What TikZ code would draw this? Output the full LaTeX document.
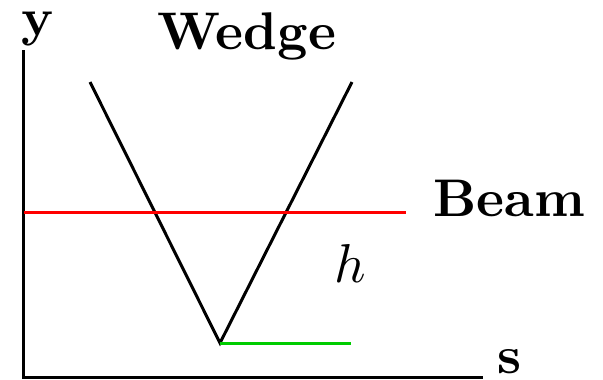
\documentclass[tikz,border=0pt]{standalone}
\begin{document}
\begin{tikzpicture}[x=0.2pt,y=-0.2pt,
  ln/.style={line width=0.6pt},
  lbl/.style={font=\fontsize{10.6}{12}\selectfont\bfseries, inner sep=0pt}]
\useasboundingbox (0,0) rectangle (603,379);
\coordinate (ytop) at (24,50);
\coordinate (o) at (24,377);
\coordinate (send) at (483,377);
\draw[ln] (ytop) -- (o) -- (send);
\node[lbl] (ylab) at (38,29) {y};
\node[lbl] (slab) at (510,362) {s};
\node[lbl] (wedge) at (247,36) {Wedge};
\node[lbl] (beam) at (509,198) {Beam};
\node[inner sep=0pt, font=\fontsize{10.6}{12}\selectfont] (h) at (350,263) {$h$};
\coordinate (wl) at (90,82);
\coordinate (wt) at (220,343);
\coordinate (wr) at (352,82);
\draw[ln] (wl) -- (wt) -- (wr);
\coordinate (b1) at (24,212);
\coordinate (b2) at (406,212);
\draw[ln, red] (b1) -- (b2);
\coordinate (g2) at (351,343);
\draw[ln, green!80!black] (wt) -- (g2);
\end{tikzpicture}
\end{document}
